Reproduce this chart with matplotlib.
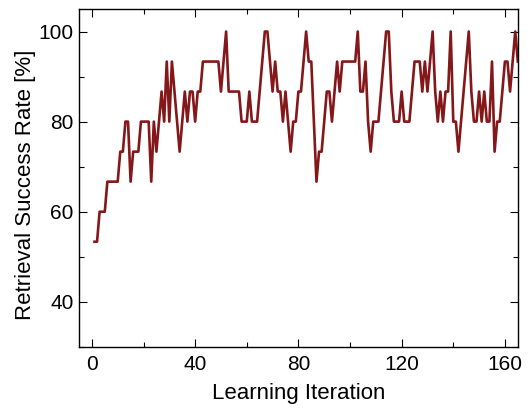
import matplotlib
matplotlib.use("Agg")
import matplotlib.pyplot as plt
from matplotlib.ticker import MultipleLocator

# Retrieval success per learning iteration
iterations = list(range(1, 166))
success_rate = [
    53.33, 53.33, 60.0, 60.0, 60.0, 66.67, 66.67, 66.67, 66.67, 66.67,
    73.33, 73.33, 80.0, 80.0, 66.67, 73.33, 73.33, 73.33, 80.0, 80.0,
    80.0, 80.0, 66.67, 80.0, 73.33, 80.0, 86.67, 80.0, 93.33, 80.0,
    93.33, 86.67, 80.0, 73.33, 80.0, 86.67, 80.0, 86.67, 86.67, 80.0,
    86.67, 86.67, 93.33, 93.33, 93.33, 93.33, 93.33, 93.33, 93.33, 86.67,
    93.33, 100.0, 86.67, 86.67, 86.67, 86.67, 86.67, 80.0, 80.0, 80.0,
    86.67, 80.0, 80.0, 80.0, 86.67, 93.33, 100.0, 100.0, 93.33, 86.67,
    93.33, 86.67, 86.67, 80.0, 86.67, 80.0, 73.33, 80.0, 80.0, 86.67,
    86.67, 93.33, 100.0, 93.33, 93.33, 80.0, 66.67, 73.33, 73.33, 80.0,
    86.67, 86.67, 80.0, 86.67, 93.33, 86.67, 93.33, 93.33, 93.33, 93.33,
    93.33, 93.33, 100.0, 86.67, 86.67, 93.33, 80.0, 73.33, 80.0, 80.0,
    80.0, 86.67, 93.33, 100.0, 100.0, 86.67, 80.0, 80.0, 80.0, 86.67,
    80.0, 80.0, 80.0, 86.67, 93.33, 93.33, 93.33, 86.67, 93.33, 86.67,
    93.33, 100.0, 86.67, 80.0, 86.67, 80.0, 86.67, 86.67, 100.0, 80.0,
    80.0, 73.33, 80.0, 86.67, 93.33, 100.0, 86.67, 80.0, 80.0, 86.67,
    80.0, 86.67, 80.0, 80.0, 93.33, 73.33, 80.0, 80.0, 86.67, 93.33,
    93.33, 86.67, 93.33, 100.0, 93.33,
]

x_ticks = [0, 40, 80, 120, 160]
y_ticks = [40, 60, 80, 100]

plt.rcParams["font.family"] = ["Liberation Sans", "DejaVu Sans"]

fig = plt.figure(figsize=(5.3, 4.09), dpi=100)
ax = fig.add_axes([0.149, 0.152, 0.828, 0.826])

ax.plot(iterations, success_rate, color="#841719", linewidth=1.9)

ax.set_xlim(-5, 165)
ax.set_ylim(30, 105)
ax.set_xticks(x_ticks)
ax.set_yticks(y_ticks)
ax.xaxis.set_minor_locator(MultipleLocator(20))
ax.yaxis.set_minor_locator(MultipleLocator(10))

ax.tick_params(which="both", direction="in", top=True, right=True,
               width=0.8, labelsize=15, colors="black")
ax.tick_params(which="major", length=5.5)
ax.tick_params(which="minor", length=3.5)
ax.tick_params(axis="x", pad=6)
ax.tick_params(axis="y", pad=4)
for s in ax.spines.values():
    s.set_linewidth(1.0)

ax.set_xlabel("Learning Iteration", fontsize=16)
ax.set_ylabel("Retrieval Success Rate [%]", fontsize=16)
ax.xaxis.set_label_coords(0.5, -0.107)
ax.yaxis.set_label_coords(-0.098, 0.479)

fig.savefig("out.png", dpi=100)
